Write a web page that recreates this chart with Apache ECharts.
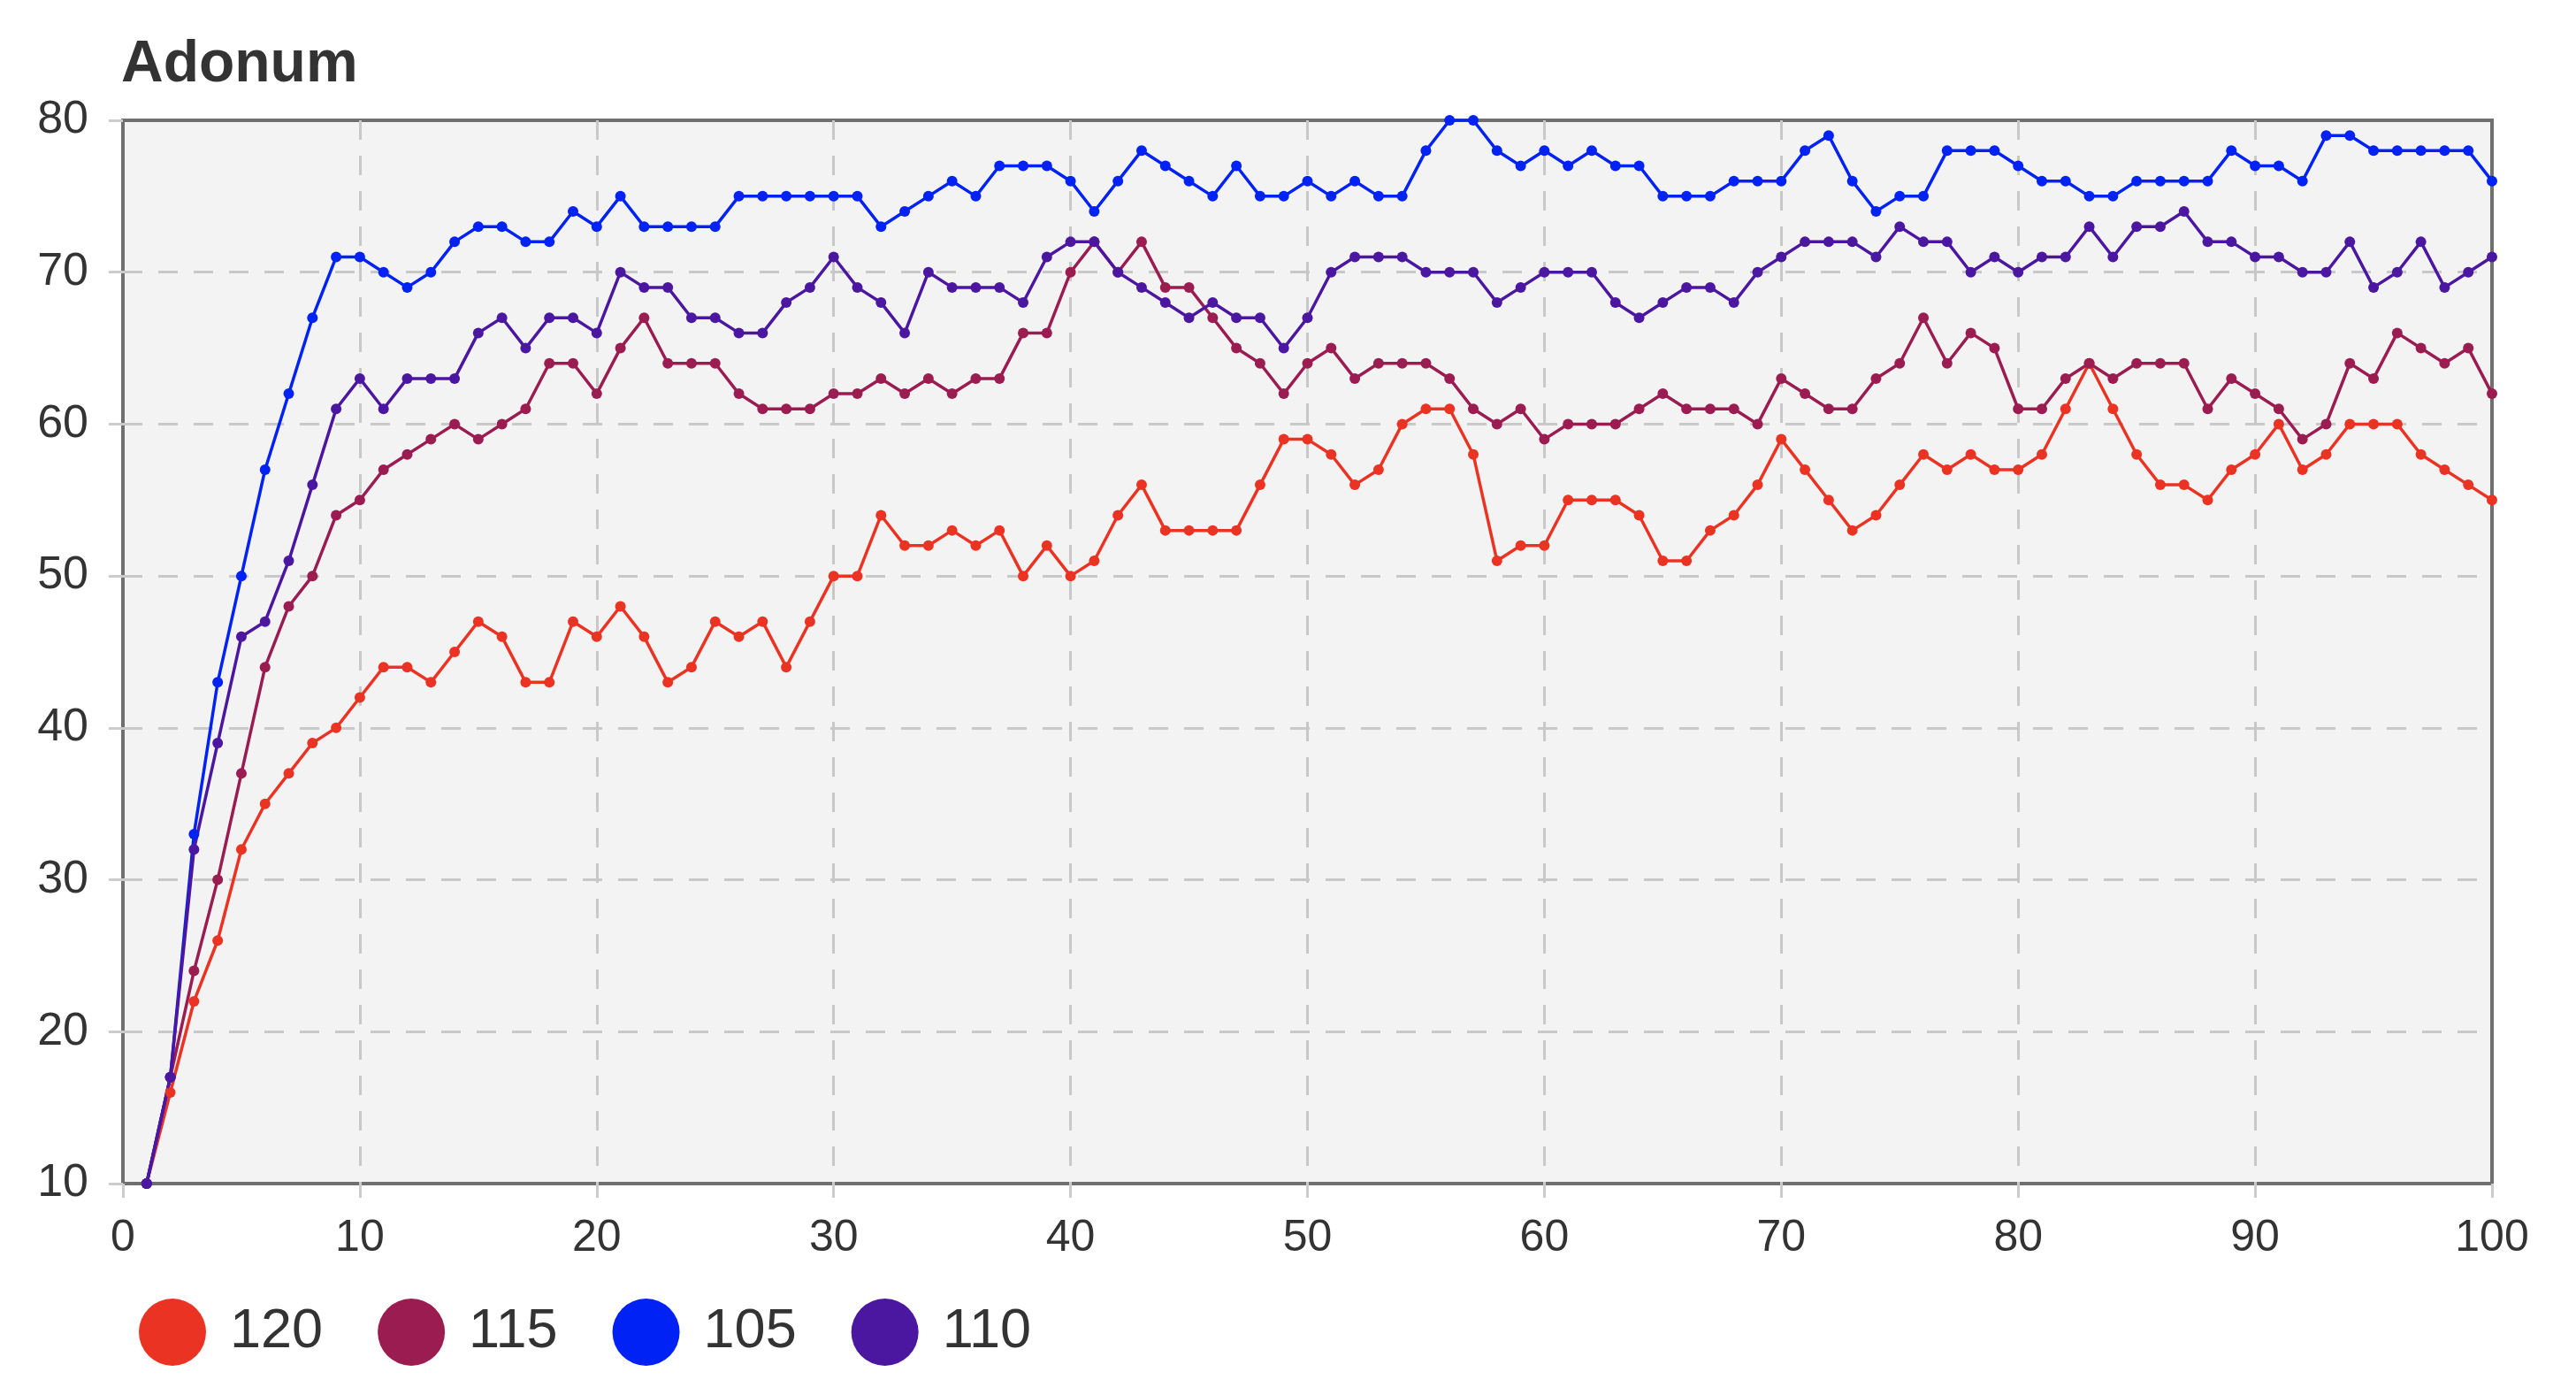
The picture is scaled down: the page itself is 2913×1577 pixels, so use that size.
<!DOCTYPE html>
<html>
<head>
<meta charset="utf-8">
<script src="https://cdn.jsdelivr.net/npm/echarts@6/dist/echarts.min.js"></script>
<style>
html,body{margin:0;padding:0;background:#fff;}
#chart{width:2913px;height:1577px;}
</style>
</head>
<body>
<div id="chart"></div>
<script>
const xValues = [1,2,3,4,5,6,7,8,9,10,11,12,13,14,15,16,17,18,19,20,21,22,23,24,25,26,27,28,29,30,31,32,33,34,35,36,37,38,39,40,41,42,43,44,45,46,47,48,49,50,51,52,53,54,55,56,57,58,59,60,61,62,63,64,65,66,67,68,69,70,71,72,73,74,75,76,77,78,79,80,81,82,83,84,85,86,87,88,89,90,91,92,93,94,95,96,97,98,99,100];

const seriesNames = ['120', '115', '105', '110'];

const s120 = [10,16,22,26,32,35,37,39,40,42,
  44,44,43,45,47,46,43,43,47,46,
  48,46,43,44,47,46,47,44,47,50,
  50,54,52,52,53,52,53,50,52,50,
  51,54,56,53,53,53,53,56,59,59,
  58,56,57,60,61,61,58,51,52,52,
  55,55,55,54,51,51,53,54,56,59,
  57,55,53,54,56,58,57,58,57,57,
  58,61,64,61,58,56,56,55,57,58,
  60,57,58,60,60,60,58,57,56,55];

const s115 = [10,17,24,30,37,44,48,50,54,55,
  57,58,59,60,59,60,61,64,64,62,
  65,67,64,64,64,62,61,61,61,62,
  62,63,62,63,62,63,63,66,66,70,
  72,70,72,69,69,67,65,64,62,64,
  65,63,64,64,64,63,61,60,61,59,
  60,60,60,61,62,61,61,61,60,63,
  62,61,61,63,64,67,64,66,65,61,
  61,63,64,63,64,64,64,61,63,62,
  61,59,60,64,63,66,65,64,65,62];

const s105 = [10,17,33,43,50,57,62,67,71,71,
  70,69,70,72,73,73,72,72,74,73,
  75,73,73,73,73,75,75,75,75,75,
  75,73,74,75,76,75,77,77,77,76,
  74,76,78,77,76,75,77,75,75,76,
  75,76,75,75,78,80,80,78,77,78,
  77,78,77,77,75,75,75,76,76,76,
  78,79,76,74,75,75,78,78,78,77,
  76,76,75,75,76,76,76,76,78,77,
  77,76,79,79,78,78,78,78,78,76];

const s110 = [10,17,32,39,46,47,51,56,61,63,
  61,63,63,63,66,67,65,67,67,66,
  70,69,69,67,67,66,66,68,69,71,
  69,68,66,70,69,69,69,68,71,72,
  72,70,69,68,67,68,67,67,65,67,
  70,71,71,71,70,70,70,68,69,70,
  70,70,68,67,68,69,69,68,70,71,
  72,72,72,71,73,72,72,70,71,70,
  71,71,73,71,73,73,74,72,72,71,
  71,70,70,72,69,70,72,69,70,71];

const colors = ['#ea3323', '#9a1c50', '#0022f5', '#4b17a0'];
const allValues = [s120, s115, s105, s110];

const chart = echarts.init(document.getElementById('chart'));

const series = seriesNames.map((name, i) => ({
  name: name,
  type: 'line',
  data: xValues.map((x, j) => [x, allValues[i][j]]),
  symbol: 'circle',
  symbolSize: 12,
  showSymbol: true,
  lineStyle: { width: 3.5, color: colors[i] },
  itemStyle: { color: colors[i] },
  animation: false
}));

const splitStyle = { color: '#c8c8c8', width: 3, type: [22, 18] };

chart.setOption({
  animation: false,
  color: colors,
  title: {
    text: 'Adonum',
    left: 137,
    top: 41,
    padding: 0,
    textStyle: { fontFamily: 'Liberation Sans', fontWeight: 'bold', fontSize: 66, color: '#333' }
  },
  legend: {
    left: 157,
    top: 1468,
    icon: 'circle',
    itemWidth: 76,
    itemHeight: 76,
    itemGap: 62,
    padding: 0,
    data: seriesNames,
    textStyle: { fontFamily: 'Liberation Sans', fontSize: 63, color: '#333', padding: [0, 0, 0, 22] }
  },
  grid: {
    left: 139,
    right: 95,
    top: 136,
    bottom: 239,
    show: true,
    backgroundColor: '#f3f3f3',
    borderColor: '#6f6f6f',
    borderWidth: 4
  },
  xAxis: {
    type: 'value',
    min: 0,
    max: 100,
    interval: 10,
    axisLine: { show: false },
    axisTick: { show: true, length: 16, lineStyle: { color: '#ccc', width: 3 } },
    axisLabel: { margin: 37, fontFamily: 'Liberation Sans', fontSize: 50, color: '#333' },
    splitLine: { show: true, showMinLine: false, showMaxLine: false, lineStyle: splitStyle }
  },
  yAxis: {
    type: 'value',
    min: 10,
    max: 80,
    interval: 10,
    axisLine: { show: false },
    axisTick: { show: true, length: 16, lineStyle: { color: '#ccc', width: 3 } },
    axisLabel: { margin: 39, fontFamily: 'Liberation Sans', fontSize: 52, color: '#333' },
    splitLine: { show: true, showMinLine: false, showMaxLine: false, lineStyle: splitStyle }
  },
  series: series
});
</script>
</body>
</html>
